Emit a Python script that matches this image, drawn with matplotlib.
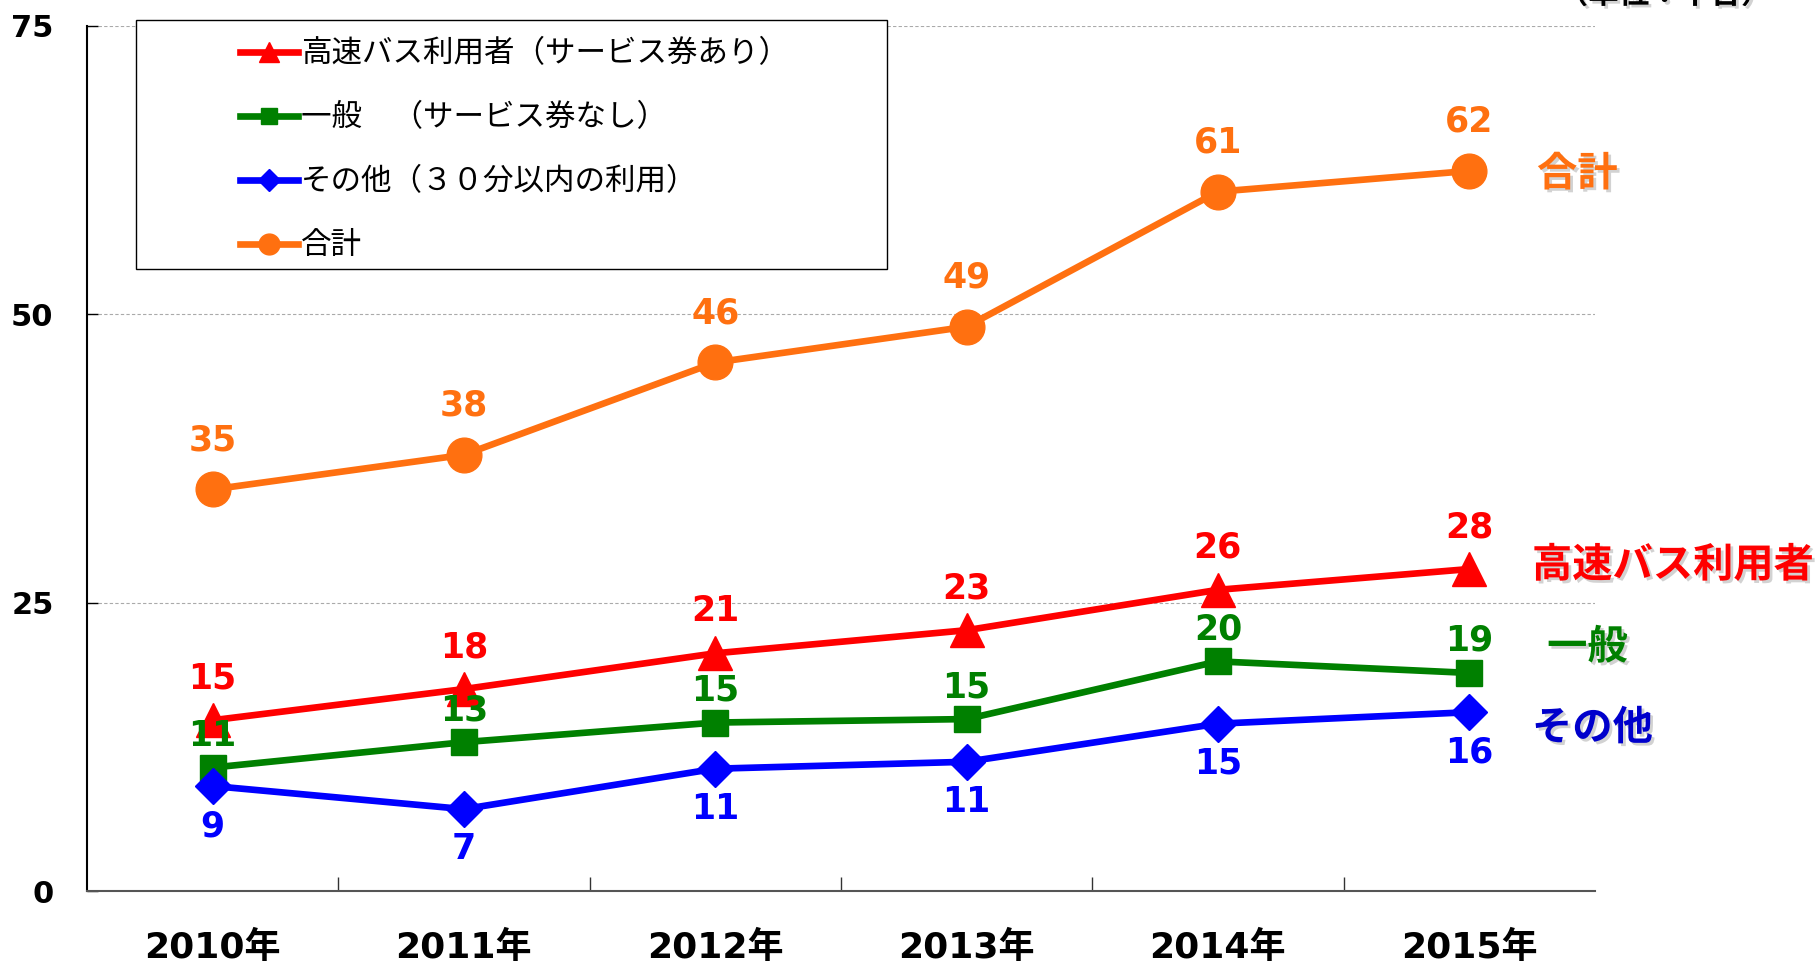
import matplotlib

matplotlib.use("Agg")

import matplotlib.pyplot as plt
import matplotlib.patheffects as pe
from matplotlib.patches import Rectangle
from matplotlib.ticker import FixedLocator

plt.rcParams["font.family"] = ["DejaVu Sans", "Noto Sans CJK JP"]

years = ["2010年", "2011年", "2012年", "2013年", "2014年", "2015年"]
highway = [14.8, 17.5, 20.6, 22.6, 26.1, 27.9]
general = [10.7, 12.9, 14.6, 14.9, 19.9, 18.9]
other = [9.1, 7.1, 10.6, 11.2, 14.5, 15.5]
total = [34.8, 37.8, 45.8, 48.9, 60.6, 62.4]

highway_lbl = [15, 18, 21, 23, 26, 28]
general_lbl = [11, 13, 15, 15, 20, 19]
other_lbl = [9, 7, 11, 11, 15, 16]
total_lbl = [35, 38, 46, 49, 61, 62]

legend_names = ["高速バス利用者（サービス券あり）", "一般　（サービス券なし）",
                "その他（３０分以内の利用）", "合計"]
side_names = ["高速バス利用者", "一般", "その他", "合計"]

RED, GREEN, BLUE, ORANGE = "#FF0000", "#008000", "#0000FF", "#FF7010"
CJK = ["Noto Sans CJK JP", "DejaVu Sans"]

fig = plt.figure(figsize=(18.19, 9.66), dpi=100)
ax = fig.add_axes([0.0478, 0.0776, 0.829, 0.896])
x = range(len(years))

series = [
    (highway, highway_lbl, RED, "^", 25, 42),
    (general, general_lbl, GREEN, "s", 19, 32),
    (other, other_lbl, BLUE, "D", 18, -40),
    (total, total_lbl, ORANGE, "o", 25, 49),
]
handles = []
for vals, lbls, col, mk, ms, off in series:
    h, = ax.plot(x, vals, color=col, lw=4.8, marker=mk, ms=ms,
                 markeredgecolor=col, zorder=3, clip_on=False)
    handles.append(h)
    for xi, v, t in zip(x, vals, lbls):
        ax.annotate(str(t), (xi, v), xytext=(0, off), textcoords="offset pixels",
                    ha="center", va="center", color=col, fontsize=25,
                    fontweight="bold", zorder=4)

ax.set_xlim(-0.5, 5.5)
ax.set_ylim(0, 75)
ax.set_yticks([0, 25, 50, 75])
ax.yaxis.grid(True, color="#aaaaaa", ls=(0, (3, 2)), lw=0.8)
ax.set_axisbelow(True)
ax.tick_params(axis="y", direction="in", length=8, width=1, pad=24,
               labelsize=22)
for t in ax.get_yticklabels():
    t.set_fontweight("bold")
ax.set_xticks(list(x))
ax.set_xticklabels(years, fontsize=26, fontweight="bold")
ax.tick_params(axis="x", which="major", length=0, pad=29)
ax.xaxis.set_minor_locator(FixedLocator([0.5, 1.5, 2.5, 3.5, 4.5]))
ax.tick_params(axis="x", which="minor", direction="in", length=10,
               width=1, color="#333333")
for s in ("top", "right"):
    ax.spines[s].set_visible(False)
ax.spines["left"].set_color("black")
ax.spines["left"].set_linewidth(1.5)
ax.spines["bottom"].set_color("#555555")
ax.spines["bottom"].set_linewidth(1.5)

# legend box with wide left margin
fig.add_artist(Rectangle((0.0748, 0.7215), 0.4129, 0.2578,
                         transform=fig.transFigure, facecolor="white",
                         edgecolor="black", lw=1.0, zorder=4))
fig.legend(handles, legend_names, loc="upper left",
           bbox_to_anchor=(0.1237, 0.976), bbox_transform=fig.transFigure,
           frameon=False, borderpad=0, handlelength=1.9, handletextpad=0.1,
           labelspacing=1.08, markerscale=0.6,
           prop={"family": CJK, "size": 22})

# series names on the right
shadow = [pe.withSimplePatchShadow(offset=(2, -2), shadow_rgbFace="gray",
                                   alpha=0.35)]
side_pos = [(5.81, 28.2, RED), (5.47, 21.1, GREEN), (5.49, 14.1, "#0000CC"),
            (5.43, 62.1, ORANGE)]
for name, (px, py, col) in zip(side_names, side_pos):
    ax.text(px, py, name, ha="center", va="center", color=col, fontsize=29,
            fontweight="bold", family=CJK, path_effects=shadow,
            clip_on=False)

fig.text(0.915, 1.006, "（単位：千台）", ha="center", va="center",
         fontsize=22, fontweight="bold", family=CJK, path_effects=shadow)

fig.savefig("out.png", dpi=100, facecolor="white")
